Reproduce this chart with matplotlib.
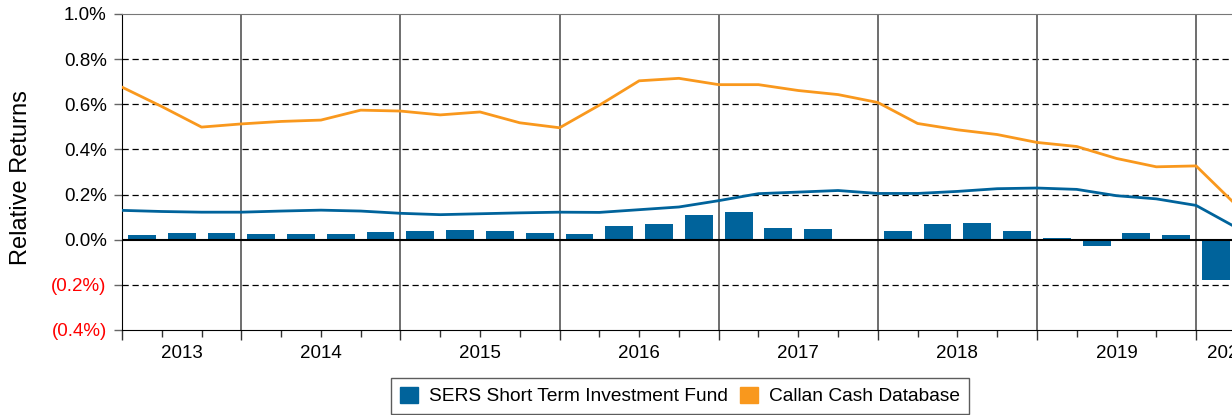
import numpy as np
import matplotlib.pyplot as plt
from matplotlib.patches import Patch

plt.rcParams['font.family'] = ['Liberation Sans', 'DejaVu Sans']

# quarterly relative returns (%), 2013 Q2 - 2020 Q1
fund_bars = [0.021, 0.030, 0.028, 0.025, 0.027, 0.027, 0.035, 0.038,
             0.044, 0.038, 0.028, 0.027, 0.062, 0.068, 0.109, 0.121,
             0.050, 0.049, 0.005, 0.037, 0.069, 0.072, 0.040, 0.009,
             -0.030, 0.030, 0.022, -0.177]

# rolling returns at each quarter end (%)
fund_line = [0.130, 0.125, 0.122, 0.122, 0.127, 0.131, 0.127, 0.117,
             0.111, 0.115, 0.119, 0.122, 0.121, 0.133, 0.145, 0.173,
             0.204, 0.211, 0.218, 0.205, 0.205, 0.214, 0.226, 0.229,
             0.223, 0.195, 0.181, 0.152, 0.055]
cash_line = [0.676, 0.590, 0.499, 0.513, 0.524, 0.530, 0.574, 0.570,
             0.553, 0.566, 0.518, 0.496, 0.596, 0.704, 0.715, 0.687,
             0.687, 0.661, 0.643, 0.608, 0.515, 0.487, 0.466, 0.431,
             0.413, 0.360, 0.323, 0.327, 0.155]

years = ['2013', '2014', '2015', '2016', '2017', '2018', '2019', '2020']
year_starts = [0, 3, 7, 11, 15, 19, 23, 27]

y_ticks = [1.0, 0.8, 0.6, 0.4, 0.2, 0.0, -0.2, -0.4]
y_labels = ['1.0%', '0.8%', '0.6%', '0.4%', '0.2%', '0.0%', '(0.2%)', '(0.4%)']

blue = '#00639B'
orange = '#F9981D'

fig = plt.figure(figsize=(12.32, 4.15), dpi=100)
# the plot area runs on past the right edge of the figure
x_max = 28.6
q_px = 39.78
ax = fig.add_axes([122 / 1232, 85 / 415, x_max * q_px / 1232, 316 / 415])

# gridlines
for y in [0.8, 0.6, 0.4, 0.2, -0.2]:
    ax.axhline(y, color='black', lw=0.9, ls=(0, (5, 3)), zorder=1)
for x in year_starts[1:]:
    ax.axvline(x, color='#555555', lw=1.2, zorder=1)

x_bar = np.arange(len(fund_bars)) + 0.5
ax.bar(x_bar, fund_bars, width=0.70, color=blue, zorder=2)
ax.axhline(0, color='black', lw=1.5, zorder=3)

x_line = np.arange(len(cash_line))
ax.plot(x_line, cash_line, color=orange, lw=2.0, zorder=4)
ax.plot(x_line, fund_line, color=blue, lw=2.0, zorder=4)

ax.set_xlim(0, x_max)
ax.set_ylim(-0.4, 1.0)

ax.set_yticks(y_ticks)
ax.set_yticklabels(y_labels, fontsize=13.5)
for lbl, v in zip(ax.get_yticklabels(), y_ticks):
    if v < 0:
        lbl.set_color('#FF0000')
ax.tick_params(axis='y', direction='out', length=6, width=1, color='#666666', pad=5)

ax.set_xticks(year_starts)
ax.set_xticklabels([])
ax.set_xticks(np.arange(0, 29), minor=True)
ax.tick_params(axis='x', which='major', direction='out', length=7.5, width=1, color='#333333')
ax.tick_params(axis='x', which='minor', direction='out', length=5, width=1, color='#333333')

bounds = year_starts + [x_max]
for i, yr in enumerate(years):
    mid = (bounds[i] + bounds[i + 1]) / 2
    ax.text(mid, -0.073, yr, transform=ax.get_xaxis_transform(),
            ha='center', va='center', fontsize=13.5)

ax.spines['top'].set_color('#777777')
ax.spines['left'].set_color('black')
ax.spines['bottom'].set_color('black')
ax.spines['right'].set_visible(False)

fig.text(21 / 1232, 1 - 178 / 415, 'Relative Returns', rotation=90,
         ha='center', va='center', fontsize=17)

handles = [Patch(color=blue, label='SERS Short Term Investment Fund'),
           Patch(color=orange, label='Callan Cash Database')]
leg = fig.legend(handles=handles, loc='upper center', ncol=2,
                 bbox_to_anchor=(680 / 1232, 1 - 378 / 415), borderaxespad=0,
                 fontsize=13.8, frameon=True, fancybox=False,
                 handlelength=0.95, handleheight=0.95, handletextpad=0.6,
                 columnspacing=0.6, borderpad=0.45)
leg.get_frame().set_edgecolor('#333333')
leg.get_frame().set_linewidth(1.0)

plt.savefig('out.png', dpi=100)
